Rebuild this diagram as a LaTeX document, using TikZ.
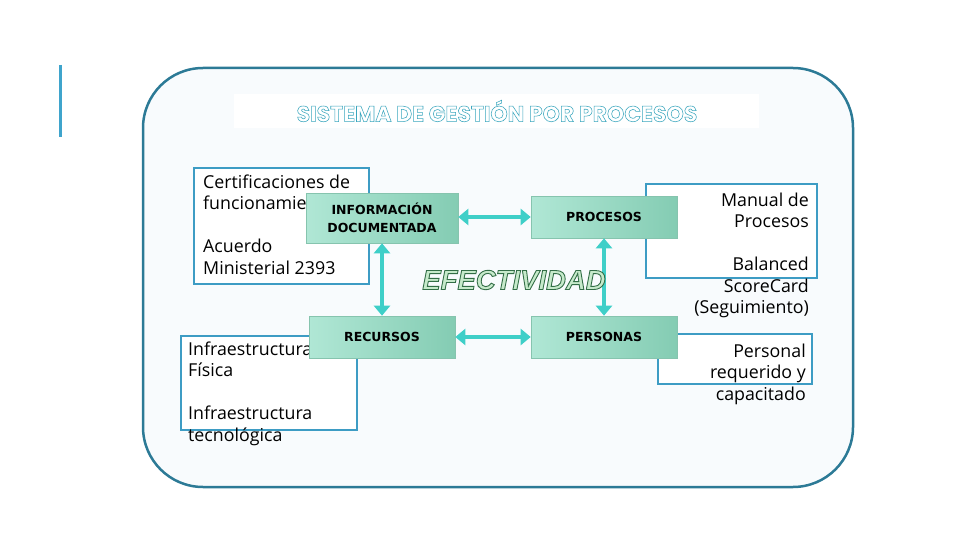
\documentclass[tikz,border=0pt]{standalone}
\usepackage{fontspec}
\usetikzlibrary{arrows.meta}
\newfontfamily\bodyfont{Open Sans}
\newfontfamily\boxfont{DejaVu Sans}
\newfontfamily\titlefont{Poppins}
\newfontfamily\effont{Liberation Sans}
\definecolor{outerc}{HTML}{2C7A96}
\definecolor{barc}{HTML}{3FA4CC}
\definecolor{boxc}{HTML}{3D9CC4}
\definecolor{arrc}{HTML}{3FCFC8}
\definecolor{bgc}{HTML}{F8FBFD}
\definecolor{gl}{HTML}{B0E7D5}
\definecolor{gd}{HTML}{84CCB3}
\definecolor{gb}{HTML}{86C4AE}
\definecolor{titc}{HTML}{3AA6BE}
\definecolor{effill}{HTML}{C6EACB}
\tikzset{
  bluebox/.style={draw=boxc, line width=2pt, fill=white, anchor=north west, inner sep=0},
  greenbox/.style={draw=gb, line width=0.6pt, left color=gl, right color=gd, inner sep=0,
    font=\boxfont\bfseries\fontsize{12.5}{17.5}\selectfont, align=center},
  bodytxt/.style={font=\bodyfont\fontsize{17.8}{21.5}\selectfont, inner sep=0, text=black},
  dblarrow/.style={draw=arrc, line width=4pt,
    {Triangle[width=16pt,length=10pt]}-{Triangle[width=16pt,length=10pt]}}
}
\begin{document}
\begin{tikzpicture}[x=1pt,y=-1pt]
\useasboundingbox (0,0) rectangle (960,540);
% left bar
\draw[barc, line width=3pt] (60,65) coordinate (barT) -- (60,137) coordinate (barB);
% outer frame
\draw[outerc, line width=2.5pt, fill=bgc, rounded corners=60pt] (143,68) rectangle (853,487);
% title band
\node[fill=white, minimum width=525pt, minimum height=34pt, inner sep=0] (band) at (496,111) {};
\node[font=\titlefont\bfseries\fontsize{22}{26}\selectfont, text=titc, inner sep=0] (title) at (497,111)
  {\special{pdf:literal direct 1 Tr 0.55 w}SISTEMA DE GESTIÓN POR PROCESOS\special{pdf:literal direct 0 Tr}};
% blue boxes
\node[bluebox, minimum width=175pt, minimum height=116pt] (cert) at (193,167) {};
\node[bluebox, minimum width=176pt, minimum height=94pt] (infra) at (180,335) {};
\node[bluebox, minimum width=171pt, minimum height=94pt] (manual) at (645,183) {};
\node[bluebox, minimum width=154pt, minimum height=50pt] (personal) at (657,333) {};
% texts in blue boxes
\node[bodytxt, anchor=north west, align=left] (certtxt) at (203,173)
  {\rule{0pt}{15pt}Certificaciones de\\funcionamiento\\[21.5pt]Acuerdo\\Ministerial 2393};
\node[bodytxt, anchor=north west, align=left] (infratxt) at (188,340)
  {\rule{0pt}{15pt}Infraestructura\\Física\\[21.5pt]Infraestructura\\tecnológica};
\node[bodytxt, anchor=north east, align=right] (manualtxt) at (809,191)
  {\rule{0pt}{15pt}Manual de\\Procesos\\[21.5pt]Balanced\\ScoreCard\\(Seguimiento)};
\node[bodytxt, anchor=north east, align=right] (personaltxt) at (806,342)
  {\rule{0pt}{15pt}Personal\\requerido y\\capacitado};
% green boxes
\node[greenbox, minimum width=152pt, minimum height=50pt] (info) at (382,218) {INFORMACIÓN\\DOCUMENTADA};
\node[greenbox, minimum width=146pt, minimum height=42pt] (proc) at (604,217) {PROCESOS};
\node[greenbox, minimum width=146pt, minimum height=42pt] (recur) at (382,337) {RECURSOS};
\node[greenbox, minimum width=146pt, minimum height=42pt] (pers) at (604,337) {PERSONAS};
% arrows
\draw[dblarrow] (info.east |- proc.west) -- (proc.west);
\draw[dblarrow] (recur.east) -- (pers.west);
\draw[dblarrow] (info.south) -- (recur.north);
\draw[dblarrow] (proc.south) -- (pers.north);
% EFECTIVIDAD
\node[font=\effont\bfseries\itshape\fontsize{27.5}{31}\selectfont, inner sep=0] (efect) at (514,280)
  {\color{effill}\special{pdf:literal direct 0.20 0.43 0.28 RG 2 Tr 0.9 w}EFECTIVIDAD\special{pdf:literal direct 0 Tr}};
\end{tikzpicture}
\end{document}
